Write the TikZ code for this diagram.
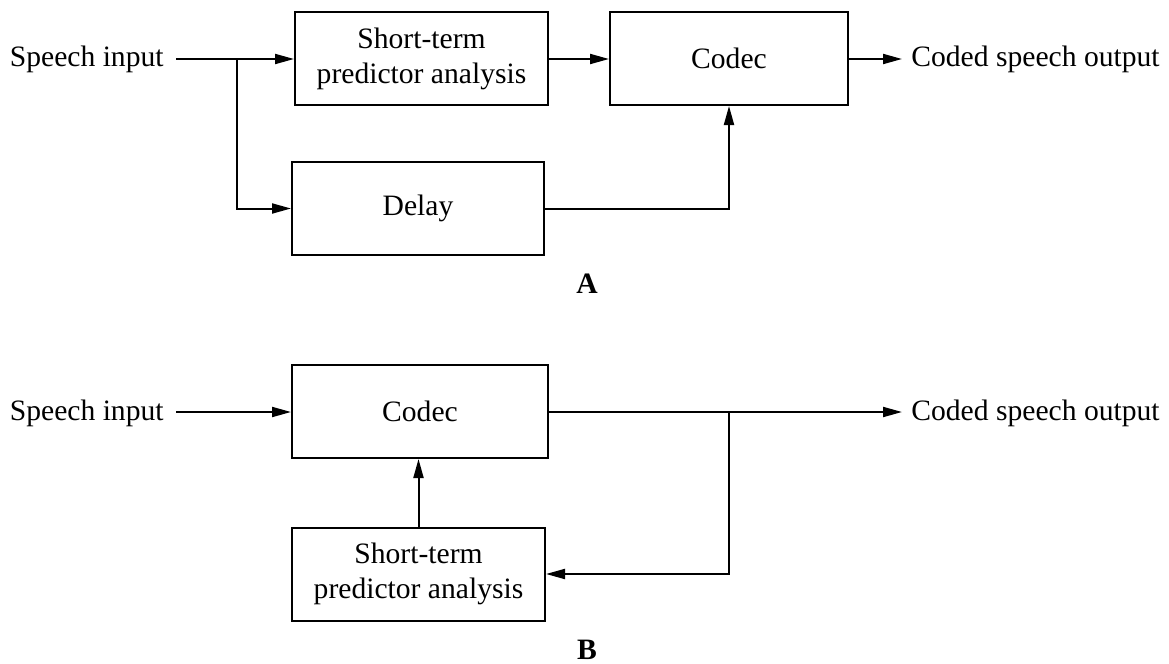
\documentclass[tikz,border=0pt]{standalone}
\usepackage{fontspec}
\setmainfont{Liberation Serif}
\usetikzlibrary{arrows.meta}
\begin{document}
\begin{tikzpicture}[x=0.5pt,y=-0.5pt,
  every node/.style={font=\fontsize{14.8pt}{17.5pt}\selectfont},
  blk/.style={draw, line width=1pt, minimum height=46.5pt, inner sep=0pt, align=center},
  lbl/.style={inner sep=0pt},
  arr/.style={line width=1pt, -{Triangle[length=9.5pt,width=5pt]}},
  ln/.style={line width=1pt}]
\useasboundingbox (0,0) rectangle (1169,664);
% ---------- A ----------
\node[lbl, anchor=base east] (sinA) at (164,67) {Speech input};
\coordinate (sinAe) at (176,59);
\node[blk, minimum width=126.5pt] (stpA) at (421.5,58.5) {Short-term\\predictor analysis};
\node[blk, minimum width=119pt] (codecA) at (729,58.5) {Codec};
\node[blk, minimum width=126pt] (delay) at (418,208.5) {Delay};
\coordinate (outA) at (902,59);
\node[lbl, anchor=base west] (outAl) at (911,67) {Coded speech output};
\coordinate (brA) at (237,59);
\draw[arr] (sinAe) -- (stpA.west |- sinAe);
\draw[arr] (brA) |- (delay.west);
\draw[arr] (stpA.east |- sinAe) -- (codecA.west |- sinAe);
\draw[arr] (codecA.east |- outA) -- (outA);
\draw[arr] (delay.east) -| (codecA.south);
\node[lbl, font=\fontsize{14.8pt}{17.5pt}\selectfont\bfseries] (labA) at (587,284) {A};
% ---------- B ----------
\node[lbl, anchor=base east] (sinB) at (164,420) {Speech input};
\coordinate (sinBe) at (176,412);
\node[blk, minimum width=128pt] (codecB) at (420,411.5) {Codec};
\node[blk, minimum width=126.5pt] (stpB) at (418.5,574) {Short-term\\predictor analysis};
\coordinate (outB) at (902,412);
\node[lbl, anchor=base west] (outBl) at (911,420) {Coded speech output};
\coordinate (brB) at (729,412);
\draw[arr] (sinBe) -- (codecB.west |- sinBe);
\draw[arr] (codecB.east |- outB) -- (outB);
\draw[arr] (brB) |- (stpB.east);
\draw[arr] (stpB.north) -- (stpB.north |- codecB.south);
\node[lbl, font=\fontsize{14.8pt}{17.5pt}\selectfont\bfseries] (labB) at (587,650) {B};
\end{tikzpicture}
\end{document}
